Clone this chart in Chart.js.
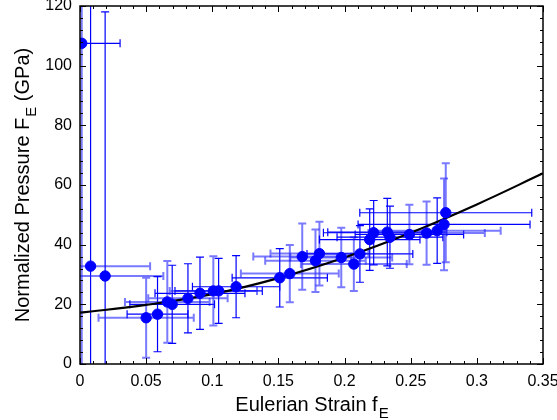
<!DOCTYPE html>
<html><head><meta charset="utf-8">
<script src="https://cdn.jsdelivr.net/npm/chart.js@4"></script>
<style>html,body{margin:0;padding:0;background:#fff}#wrap{width:557px;height:420px;position:relative}</style>
</head><body><div id="wrap"><canvas id="c" width="557" height="420"></canvas></div>
<script>
// ---- data ----
const strainF     = [0.0013, 0.008, 0.019, 0.050, 0.0586, 0.066, 0.0697, 0.0816, 0.0907, 0.1008, 0.1048, 0.118, 0.151, 0.1586, 0.168, 0.178, 0.181, 0.1975, 0.207, 0.2116, 0.219, 0.222, 0.2323, 0.2343, 0.249, 0.262, 0.270, 0.2752, 0.2765];
const pressureF   = [107.5, 32.8, 29.5, 15.5, 16.7, 20.8, 20.0, 22.0, 23.7, 24.5, 24.5, 25.9, 28.9, 30.3, 36.0, 34.6, 37.0, 35.7, 33.5, 36.9, 41.7, 44.0, 44.2, 42.5, 43.4, 43.9, 44.7, 46.8, 50.7];
const strainErr   = [0.029, 0.045, 0.044, 0.036, 0.023, 0.032, 0.032, 0.030, 0.034, 0.033, 0.033, 0.033, 0.036, 0.037, 0.037, 0.038, 0.037, 0.0385, 0.040, 0.040, 0.038, 0.038, 0.045, 0.040, 0.041, 0.044, 0.048, 0.065, 0.065];
const pressureErr = [150, 150, 88.5, 13.4, 12.6, 13.7, 13.1, 11.6, 12.1, 11.6, 10.9, 10.4, 9.8, 9.6, 11.1, 10.5, 10.7, 10.0, 9.0, 9.5, 10.3, 10.8, 11.3, 10.4, 10.0, 10.6, 11.0, 15.4, 16.6];
const hBarLight   = [0, 1, 1, 1, 0, 1, 0, 1, 0, 1, 0, 0, 0, 1, 1, 1, 1, 1, 1, 0, 0, 0, 0, 0, 0, 1, 1, 0, 0];
const vBarLight   = [1, 0, 0, 1, 0, 1, 0, 0, 0, 1, 0, 0, 0, 1, 1, 1, 1, 1, 1, 0, 0, 0, 0, 0, 1, 1, 0, 1, 1];
const fitStrain   = [0, 0.05, 0.10, 0.15, 0.20, 0.25, 0.30, 0.35];
const fitPressure = [17.2, 19.8, 23.4, 28.8, 35.7, 44.0, 53.5, 63.9];
const xTickLabels = ['0', '0.05', '0.1', '0.15', '0.2', '0.25', '0.3', '0.35'];
const yTickLabels = ['0', '20', '40', '60', '80', '100', '120'];
const xTitleMain = 'Eulerian Strain f', xTitleSub = 'E';
const yTitleMain = 'Normalized Pressure F', yTitleSub = 'E', yTitleTail = ' (GPa)';

const FONT = '"Liberation Sans", Arial, sans-serif';
const DARK = '#0000ff', LIGHT = 'rgba(40,40,255,0.62)';

const errorBars = {
  id: 'errorBars',
  beforeDatasetsDraw(chart) {
    const {ctx, chartArea: a, scales: {x, y}} = chart;
    ctx.save();
    ctx.beginPath(); ctx.rect(a.left, a.top, a.right - a.left, a.bottom - a.top); ctx.clip();
    const cap = 4;
    strainF.forEach((f, i) => {
      const px = x.getPixelForValue(f), py = y.getPixelForValue(pressureF[i]);
      const x0 = x.getPixelForValue(f - strainErr[i]), x1 = x.getPixelForValue(f + strainErr[i]);
      const y0 = y.getPixelForValue(pressureF[i] - pressureErr[i]), y1 = y.getPixelForValue(pressureF[i] + pressureErr[i]);
      ctx.strokeStyle = hBarLight[i] ? LIGHT : DARK; ctx.lineWidth = hBarLight[i] ? 2 : 1.2;
      ctx.beginPath();
      ctx.moveTo(x0, py); ctx.lineTo(x1, py);
      ctx.moveTo(x0, py - cap); ctx.lineTo(x0, py + cap);
      ctx.moveTo(x1, py - cap); ctx.lineTo(x1, py + cap);
      ctx.stroke();
      ctx.strokeStyle = vBarLight[i] ? LIGHT : DARK; ctx.lineWidth = vBarLight[i] ? 2 : 1.2;
      ctx.beginPath();
      ctx.moveTo(px, y0); ctx.lineTo(px, y1);
      ctx.moveTo(px - cap, y0); ctx.lineTo(px + cap, y0);
      ctx.moveTo(px - cap, y1); ctx.lineTo(px + cap, y1);
      ctx.stroke();
    });
    ctx.restore();
  }
};

const frame = {
  id: 'frame',
  afterDraw(chart) {
    const {ctx, chartArea: a, scales: {x, y}} = chart;
    ctx.save();
    ctx.strokeStyle = '#000'; ctx.lineWidth = 1.5;
    ctx.strokeRect(a.left, a.top, a.right - a.left, a.bottom - a.top);
    ctx.lineWidth = 1;
    ctx.beginPath();
    for (let k = 0; k <= 35; k++) {
      const px = Math.round(x.getPixelForValue(k * 0.01)) + 0.5;
      const L = (k % 5 === 0) ? 6 : 3;
      ctx.moveTo(px, a.bottom); ctx.lineTo(px, a.bottom - L);
      ctx.moveTo(px, a.top); ctx.lineTo(px, a.top + L);
    }
    for (let k = 0; k <= 30; k++) {
      const py = Math.round(y.getPixelForValue(k * 4)) + 0.5;
      const L = (k % 5 === 0) ? 6 : 3;
      ctx.moveTo(a.left, py); ctx.lineTo(a.left + L, py);
      ctx.moveTo(a.right, py); ctx.lineTo(a.right - L, py);
    }
    ctx.stroke();
    ctx.fillStyle = '#000';
    ctx.textBaseline = 'alphabetic';
    const big = '20px ' + FONT, small = '15px ' + FONT;
    ctx.font = big; const wMain = ctx.measureText(xTitleMain).width;
    ctx.font = small; const wSub = ctx.measureText(xTitleSub).width;
    let sx = (a.left + a.right) / 2 - (wMain + wSub) / 2;
    ctx.font = big; ctx.textAlign = 'left'; ctx.fillText(xTitleMain, sx, 411);
    ctx.font = small; ctx.fillText(xTitleSub, sx + wMain + 1, 418);
    ctx.translate(29, (a.top + a.bottom) / 2);
    ctx.rotate(-Math.PI / 2);
    ctx.font = big; const w1 = ctx.measureText(yTitleMain).width, w3 = ctx.measureText(yTitleTail).width;
    ctx.font = small; const w2 = ctx.measureText(yTitleSub).width;
    let s = -(w1 + w2 + 1 + w3) / 2;
    ctx.font = big; ctx.fillText(yTitleMain, s, 0);
    ctx.font = small; ctx.fillText(yTitleSub, s + w1 + 1, 7);
    ctx.font = big; ctx.fillText(yTitleTail, s + w1 + 1 + w2, 0);
    ctx.restore();
  }
};

const zeroPad = (s) => { s.paddingTop = 0; s.paddingBottom = 0; s.paddingLeft = 0; s.paddingRight = 0; };

new Chart(document.getElementById('c'), {
  type: 'scatter',
  data: {
    datasets: [
      { type: 'scatter', data: strainF.map((f, i) => ({x: f, y: pressureF[i]})),
        backgroundColor: DARK, borderColor: DARK, pointRadius: 5.2, pointHoverRadius: 5.2, order: 0 },
      { type: 'line', data: fitStrain.map((f, i) => ({x: f, y: fitPressure[i]})),
        borderColor: '#000', borderWidth: 2.2, pointRadius: 0, tension: 0.4, fill: false, order: 1 }
    ]
  },
  options: {
    responsive: false, animation: false, devicePixelRatio: 1,
    layout: { padding: { left: 0, top: 6, right: 14, bottom: 0 }, autoPadding: false },
    plugins: { legend: { display: false }, tooltip: { enabled: false } },
    scales: {
      x: { type: 'linear', min: 0, max: 0.35,
        grid: { display: false, drawTicks: false }, border: { display: false },
        ticks: { stepSize: 0.05, padding: 8, color: '#000', font: { family: FONT, size: 16 },
          maxRotation: 0, autoSkip: false,
          callback: (v) => xTickLabels[Math.round(v / 0.05)] },
        afterFit: (s) => { s.height = 56; zeroPad(s); } },
      y: { type: 'linear', min: 0, max: 120,
        grid: { display: false, drawTicks: false }, border: { display: false },
        ticks: { stepSize: 20, padding: 8, color: '#000', font: { family: FONT, size: 16 },
          callback: (v) => yTickLabels[Math.round(v / 20)] },
        afterFit: (s) => { s.width = 80; zeroPad(s); } }
    }
  },
  plugins: [errorBars, frame]
});
</script></body></html>
